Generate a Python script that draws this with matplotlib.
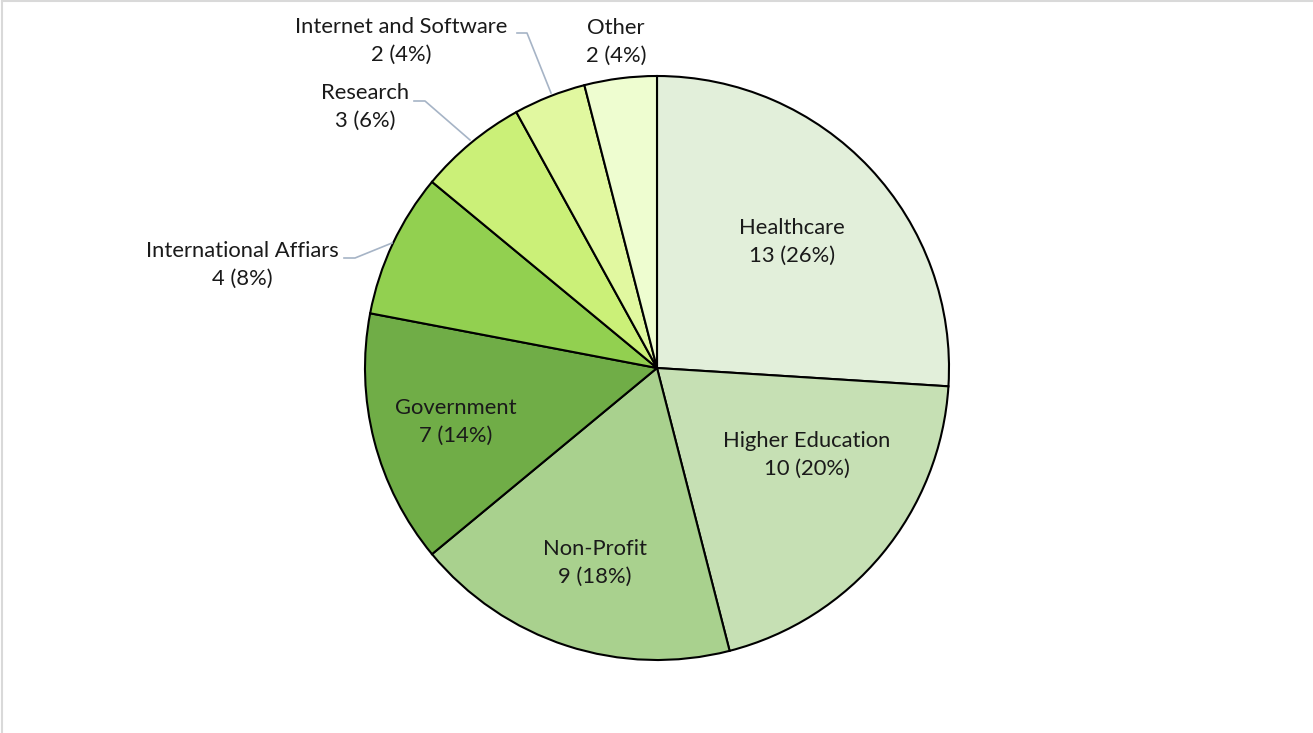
import matplotlib
matplotlib.use("Agg")
from matplotlib import pyplot as plt
from matplotlib.lines import Line2D
import numpy as np

plt.rcParams['font.family'] = ['Lato', 'DejaVu Sans']

# data
sectors = ['Healthcare', 'Higher Education', 'Non-Profit', 'Government',
           'International Affiars', 'Research', 'Internet and Software', 'Other']
counts = [13, 10, 9, 7, 4, 3, 2, 2]
colors = ['#E2EFDA', '#C6E0B4', '#A9D18E', '#70AD47',
          '#92D050', '#CBF078', '#E1F8A0', '#EEFDD0']

# label placement (pixel coords from top-left), leader lines for outside ones
label_pos = [(792, 242), (807, 455), (595, 563), (456, 422),
             (242, 265), (365, 107), (401, 41), (616, 42)]
leaders = {4: [(344, 258), (355, 258), (392, 243)],
           5: [(414, 101), (425, 101), (470, 140)],
           6: [(517, 33), (527, 33), (551, 93)]}

W, H = 1313, 733
fig = plt.figure(figsize=(W / 100, H / 100), dpi=100)
ax = fig.add_axes([0, 0, 1, 1])

cx, cy, r = 657, H - 368, 292
ax.pie(counts, colors=colors, startangle=90, counterclock=False,
       center=(cx, cy), radius=r, frame=True,
       wedgeprops=dict(edgecolor='black', linewidth=1.5))
ax.set_xlim(0, W)
ax.set_ylim(0, H)
ax.set_aspect('equal')
ax.axis('off')

total = sum(counts)
for i, (name, n) in enumerate(zip(sectors, counts)):
    x, y = label_pos[i]
    ax.text(x, H - y, '{}\n{} ({:.0f}%)'.format(name, n, 100 * n / total),
            ha='center', va='center', fontsize=15.8, color='#1a1a1a',
            linespacing=1.45)
for pts in leaders.values():
    xs = [p[0] for p in pts]
    ys = [H - p[1] for p in pts]
    ax.plot(xs, ys, color='#A6B4C6', linewidth=1.2)

# faint chart border
fig.add_artist(Line2D([0.0015, 1], [0.998, 0.998], color='#D9D9D9', lw=1.5))
fig.add_artist(Line2D([0.0015, 0.0015], [0, 0.998], color='#D9D9D9', lw=1.5))

fig.savefig('out.png', dpi=100)
